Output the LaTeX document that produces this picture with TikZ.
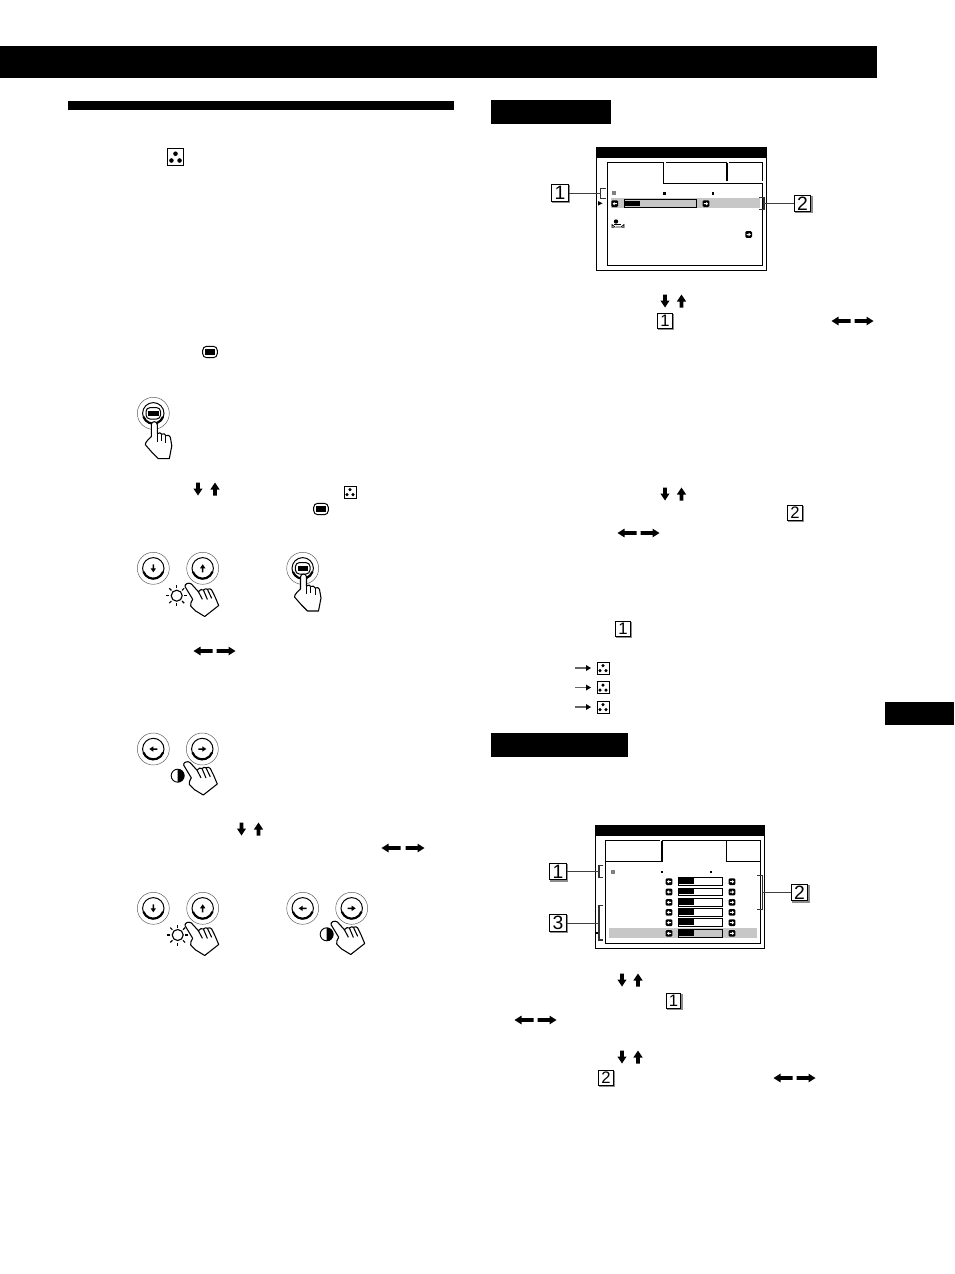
\documentclass[tikz,border=0pt]{standalone}
\usepackage{fontspec}
\setmainfont{Liberation Sans}
\usetikzlibrary{shadows}
\tikzset{
  numbox/.style={draw=black,fill=white,line width=.55pt,minimum size=12.5pt,inner sep=0pt,font=\fontsize{14.5}{14.5}\selectfont,copy shadow={shadow xshift=.8pt,shadow yshift=-.8pt,fill=black!45,draw=black!45}},
  numsmall/.style={numbox,minimum size=11pt,font=\fontsize{12.5}{12.5}\selectfont},
  lead/.style={draw=black!75,line width=.7pt},
  brk/.style={draw=black!80,line width=.8pt},
  frame/.style={draw=black,line width=.75pt},
  hibar/.style={fill=black!22},
  bigv/.pic={\fill (-1.8,6.5)--(-1.8,0.5)--(-4.6,0.5)--(0,-6.5)--(4.6,0.5)--(1.8,0.5)--(1.8,6.5)--cycle;},
  bigh/.pic={\fill (-9.5,-1.8)--(-9.5,1.8)--(2.5,1.8)--(2.5,4.4)--(9.5,0)--(2.5,-4.4)--(2.5,-1.8)--cycle;},
  smallarrow/.pic={\fill (-.75,4)--(-.75,0)--(-2.7,0)--(0,-4)--(2.7,0)--(.75,0)--(.75,4)--cycle;},
  ring/.pic={
    \draw[black!65,line width=.35pt] (0,0) circle[radius=16];
    \draw[black,line width=.75pt] (0,0) circle[radius=10.7];
    \draw[black,line width=1.6pt] (-9.8,3.5) arc[start angle=160,end angle=20,radius=10.4];
  },
  menusym/.pic={
    \draw[black,fill=white,line width=.75pt,rounded corners=3pt] (-7.3,-5.7) rectangle (7.3,5.7);
    \fill[black] (-5.2,-2.8) rectangle (5.2,2.8);
  },
  dotsym/.pic={
    \draw[black,fill=white,line width=.7pt] (-6,-6) rectangle (6,6);
    \fill (0,-2.4) circle[radius=1.7] (-3,2.6) circle[radius=1.7] (3,2.6) circle[radius=1.7];
  },
  sunsym/.pic={
    \draw[black,line width=.85pt] (0,0) circle[radius=5.5];
    \foreach \a in {0,45,...,315} \draw[black,line width=.85pt] (\a:7.5) -- (\a:10.5);
  },
  halfsym/.pic={
    \draw[black,line width=.7pt,fill=white] (0,0) circle[radius=6.5];
    \fill[black] (0,-6.5) arc[start angle=-90,end angle=90,radius=6.5] -- cycle;
  },
  handsym/.pic={
    \draw[black,fill=white,line width=.8pt,line join=round]
      (-3,3) .. controls (-3,-1) and (3,-1) .. (3,3)
      -- (3,12) .. controls (5,10.5) and (6.5,11) .. (7.3,12.5)
      .. controls (9,11.5) and (11,12) .. (11.6,14)
      .. controls (13.5,13) and (15.5,13.5) .. (16,15.5)
      -- (17.5,24) -- (15,37) -- (4,37) -- (-2,31) -- (-9,23)
      .. controls (-9,20) and (-5,17) .. (-3,15) -- cycle;
    \draw[black,line width=.8pt] (3,12) -- (3,20) (7.3,12.5) -- (7.3,19) (11.6,14) -- (11.6,21);
  },
  tilthand/.pic={
    \draw[black,fill=white,line width=.8pt,line join=round]
      (-1.6,2.7) .. controls (-2.5,0) and (2,-2) .. (4.7,0)
      -- (11.7,7.7) .. controls (13,5.5) and (15.5,5) .. (16.7,6)
      .. controls (18,4.5) and (20,4.5) .. (20.7,5.3)
      .. controls (22,4.5) and (24.5,4.5) .. (25,6)
      -- (28.3,12.7) -- (32,21.5) -- (18,32.5) -- (9,27) -- (4,22)
      .. controls (3.5,20) and (4.5,17.5) .. (6,15.3) -- cycle;
    \draw[black,line width=.8pt] (11.7,7.7) -- (15.7,15.3) (16.7,6) -- (20.7,15.5) (20.7,5.3) -- (25,14.3);
  },
  btnL/.pic={\fill[black,rounded corners=.8pt] (-3.3,-3.3) rectangle (3.3,3.3);
    \fill[white] (-2.2,0)--(0,-1.7)--(0,-.5)--(2.2,-.5)--(2.2,.5)--(0,.5)--(0,1.7)--cycle;},
  btnR/.pic={\fill[black,rounded corners=.8pt] (-3.3,-3.3) rectangle (3.3,3.3);
    \fill[white] (2.2,0)--(0,-1.7)--(0,-.5)--(-2.2,-.5)--(-2.2,.5)--(0,.5)--(0,1.7)--cycle;},
  tinyarrow/.pic={\draw[black!60,line width=.8pt] (-9,0) -- (3,0); \fill (7,0)--(2,-3)--(2,3)--cycle;}
}
\begin{document}
\begin{tikzpicture}[x=.75pt,y=-.75pt]
\useasboundingbox (0,0) rectangle (954,1274);
\fill[white] (0,0) rectangle (954,1274);
% page bands
\fill (0,46) rectangle (877,78);
\fill (68,101) rectangle (454,110);
\fill (491,100) rectangle (611,124);
\fill (491,733) rectangle (628,757);
\fill (885,702) rectangle (954,725);
% inline symbols, left column
\pic[scale=1.35] at (175.5,157) {dotsym};
\pic at (210,352) {menusym};
\pic[rotate=180] at (198,489) {bigv};
\pic at (215,489) {bigv};
\pic at (350,492) {dotsym};
\pic at (321,509) {menusym};
\pic[rotate=180] at (203,651) {bigh};
\pic at (226,651) {bigh};
\pic[rotate=180] at (241.5,829) {bigv};
\pic at (258.5,829) {bigv};
\pic[rotate=180] at (391,848) {bigh};
\pic at (415,848) {bigh};
% inline symbols, right column
\pic[rotate=180] at (665,301) {bigv};
\pic at (681.5,301) {bigv};
\pic[rotate=180] at (841,321) {bigh};
\pic at (864,321) {bigh};
\pic[rotate=180] at (665,494) {bigv};
\pic at (681.5,494) {bigv};
\pic[rotate=180] at (627,533) {bigh};
\pic at (650,533) {bigh};
\pic[rotate=180] at (622,980) {bigv};
\pic at (638,980) {bigv};
\pic[rotate=180] at (524,1020) {bigh};
\pic at (547,1020) {bigh};
\pic[rotate=180] at (622,1057) {bigv};
\pic at (638,1057) {bigv};
\pic[rotate=180] at (783,1078) {bigh};
\pic at (806,1078) {bigh};
\foreach \yy in {668,687.5,707} {
  \pic at (584,\yy) {tinyarrow};
  \pic at (603,\yy) {dotsym};
}
\node[numsmall] (tA) at (665,321) {1};
\node[numsmall] (tB) at (795,513) {2};
\node[numsmall] (tC) at (623,629) {1};
\node[numsmall] (tD) at (673.5,1001) {1};
\node[numsmall] (tE) at (606,1078) {2};
% buttons and hands
\pic at (153.3,413.3) {ring}; \pic at (153.3,413.3) {menusym};
\pic at (154.3,421.7) {handsym};
\pic at (153.3,568.3) {ring}; \pic[rotate=180] at (153.3,568.3) {smallarrow};
\pic at (202.7,568.3) {ring}; \pic at (202.7,568.3) {smallarrow};
\pic at (176.7,595.7) {sunsym};
\pic at (186.7,584) {tilthand};
\pic at (302.7,568.3) {ring}; \pic at (302.7,568.3) {menusym};
\pic at (303.5,574) {handsym};
\pic at (153.3,749) {ring}; \pic[rotate=90] at (153.3,749) {smallarrow};
\pic at (202.3,749) {ring}; \pic[rotate=-90] at (202.3,749) {smallarrow};
\pic at (177.7,775.7) {halfsym};
\pic at (185.3,762.5) {tilthand};
\pic at (153.3,908.3) {ring}; \pic[rotate=180] at (153.3,908.3) {smallarrow};
\pic at (202.7,908.3) {ring}; \pic at (202.7,908.3) {smallarrow};
\pic at (177.7,935) {sunsym};
\pic at (186.7,923) {tilthand};
\pic at (302.7,908.3) {ring}; \pic[rotate=90] at (302.7,908.3) {smallarrow};
\pic at (351.7,908.3) {ring}; \pic[rotate=-90] at (351.7,908.3) {smallarrow};
\pic at (326.7,934.3) {halfsym};
\pic at (332.7,922) {tilthand};
% first menu
\draw[frame] (596.7,147.3) rectangle (766.7,270);
\fill (596.7,147.3) rectangle (766.7,157.7);
\draw[frame] (607.7,162.7) -- (607.7,265) -- (762.3,265) -- (762.3,183.3) -- (663.3,183.3) -- (663.3,162.7) -- cycle;
\draw[frame] (666,162.7) -- (727,162.7);
\draw[frame,line width=1.4pt] (727.3,162.7) -- (727.3,180.7);
\draw[frame] (729,162.7) -- (762.3,162.7) -- (762.3,180.7);
\fill[hibar] (611,198.3) rectangle (760,208.3);
\fill[black!50] (612,191) rectangle (616,195);
\fill (663,192) rectangle (665.5,194.5);
\fill (711.5,192) rectangle (714,194.5);
\fill (598,201) -- (602.5,203.3) -- (598,205.6) -- cycle;
\pic at (614.7,203.7) {btnL};
\draw[black,line width=.7pt] (624.3,199.5) rectangle (696.7,207.5);
\fill (624.3,201) rectangle (640,205.7);
\pic at (706,203.7) {btnR};
% small picture icon of the first menu
\fill (616,221.5) circle[radius=2.2];
\fill (613.5,223.5) rectangle (621,225);
\draw[black,line width=.5pt] (612,224.5) -- (615,227) -- (612,227.4) -- cycle (624,224.5) -- (621,227) -- (624,227.4) -- cycle (616,227) -- (620,227);
\pic at (748.7,234.5) {btnR};
% first menu brackets and labels
\draw[brk] (605.5,188.3) -- (600.7,188.3) -- (600.7,198.3) -- (605.5,198.3);
\draw[brk] (759.3,197.3) -- (764,197.3) -- (764,209.3) -- (759.3,209.3);
\node[numbox] (n1) at (560,193) {1};
\node[numbox] (n2) at (802.5,203.3) {2};
\coordinate (b1) at (600.7,193);
\coordinate (b2) at (764,203.3);
\draw[lead] (n1.east) -- (b1);
\draw[lead] (n2.west) -- (b2);
% second menu
\draw[frame] (595,825) rectangle (764.3,948.3);
\fill (595,825) rectangle (764.3,835.7);
\draw[frame] (605,861.7) -- (605,943.3) -- (760.7,943.3) -- (760.7,861.7) -- (726,861.7) -- (726,840.7) -- (661.7,840.7);
\draw[frame] (605,861.7) -- (605,840.7) -- (660,840.7);
\draw[frame] (605,861.7) -- (661.7,861.7);
\draw[frame,line width=1.4pt] (661.7,841) -- (661.7,861.7);
\draw[frame] (726,840.7) -- (760.7,840.7) -- (760.7,861.7);
\fill[black!50] (610.5,869.7) rectangle (614.5,873.7);
\fill (660.5,870.5) rectangle (663,873);
\fill (709.5,870.5) rectangle (712,873);
\fill[hibar] (609,928.3) rectangle (756.7,938.3);
\fill (596.3,932.3) rectangle (598.3,934.3);
\foreach \yy/\gg in {881.7/white,892/white,902.3/white,912.3/white,922.7/white,933.3/black!22} {
  \pic at (669,\yy) {btnL};
  \draw[black,line width=.7pt,fill=\gg] (678,\yy-3.8) rectangle (722.7,\yy+3.8);
  \fill (678,\yy-3.4) rectangle (694,\yy+2.2);
  \pic at (732,\yy) {btnR};
}
\draw[brk] (603.3,865.7) -- (599,865.7) -- (599,877.3) -- (603.3,877.3);
\draw[brk] (603.3,905.7) -- (599,905.7) -- (599,940) -- (603.3,940);
\draw[brk] (757.3,875.7) -- (762.3,875.7) -- (762.3,909.3) -- (757.3,909.3);
\node[numbox] (n3) at (558,871.5) {1};
\node[numbox] (n4) at (558,923) {3};
\node[numbox] (n5) at (799.5,892.5) {2};
\coordinate (b3) at (599,871.5);
\coordinate (b4) at (599,923);
\coordinate (b5) at (762.3,892.5);
\draw[lead] (n3.east) -- (b3);
\draw[lead] (n4.east) -- (b4);
\draw[lead] (n5.west) -- (b5);
\end{tikzpicture}
\end{document}
